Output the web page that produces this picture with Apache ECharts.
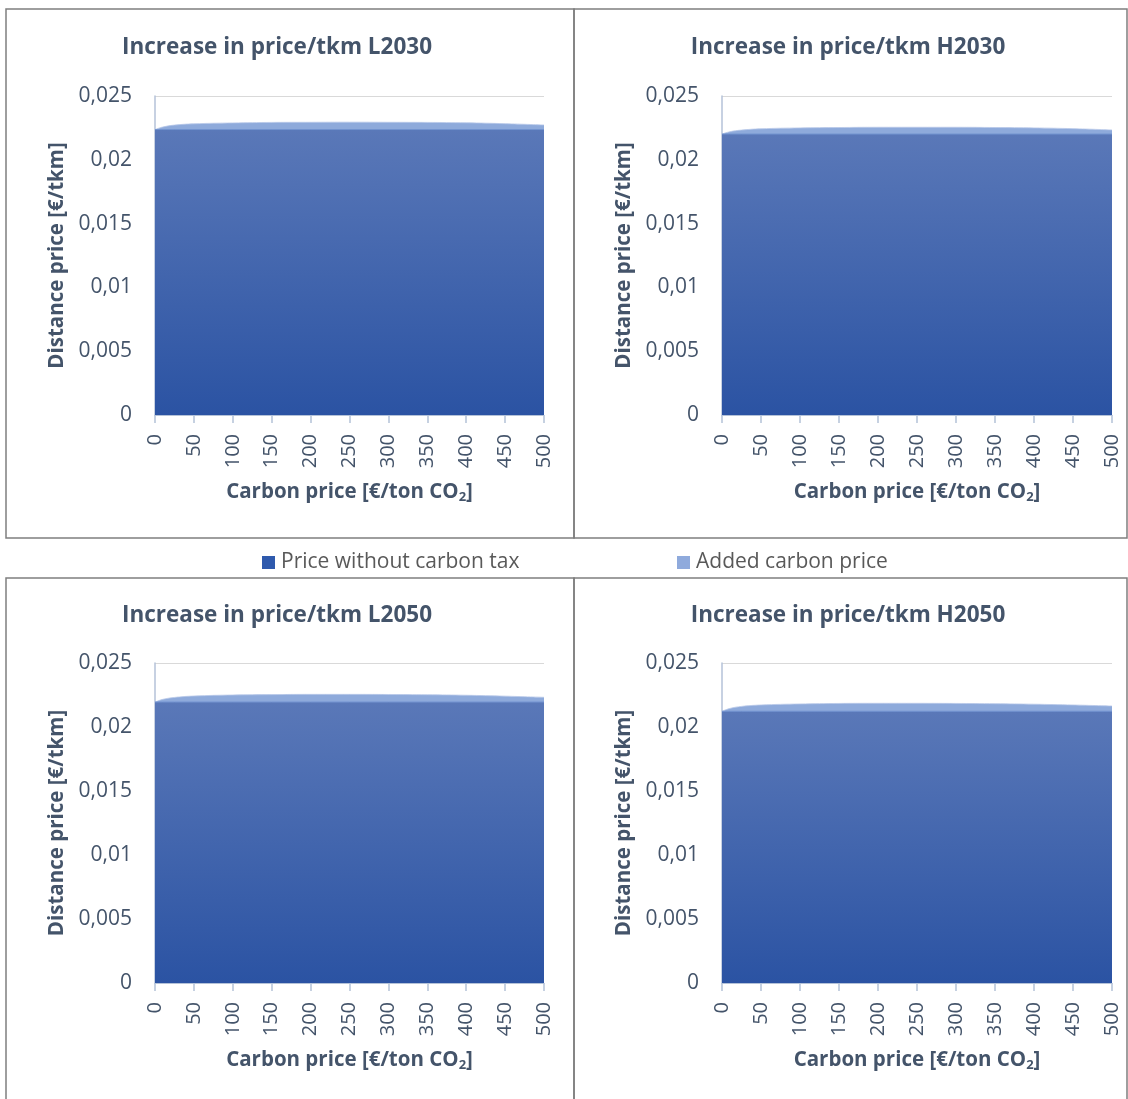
<!DOCTYPE html>
<html>
<head>
<meta charset="utf-8">
<script src="https://cdn.jsdelivr.net/npm/echarts@6/dist/echarts.min.js"></script>
<style>
html,body{margin:0;padding:0;background:#fff;}
#chart{width:1128px;height:1099px;}
</style>
</head>
<body>
<div id="chart"></div>
<script>
// ---- data ----
var carbonPrices = [0, 10, 25, 50, 100, 150, 200, 250, 300, 350, 400, 450, 500];
var xTicks = [0, 50, 100, 150, 200, 250, 300, 350, 400, 450, 500];
var yTicks = [0, 0.005, 0.01, 0.015, 0.02, 0.025];
var panelTitles = ['Increase in price/tkm L2030', 'Increase in price/tkm H2030', 'Increase in price/tkm L2050', 'Increase in price/tkm H2050'];
var seriesNames = ['Price without carbon tax', 'Added carbon price'];

var baseL2030  = [0.02237, 0.02237, 0.02237, 0.02237, 0.02237, 0.02237, 0.02237, 0.02237, 0.02237, 0.02237, 0.02237, 0.02237, 0.02237];
var addedL2030 = [0, 0.00020, 0.00035, 0.00045, 0.00052, 0.00056, 0.00057, 0.00058, 0.00057, 0.00056, 0.00053, 0.00046, 0.00036];
var baseH2030  = [0.02202, 0.02202, 0.02202, 0.02202, 0.02202, 0.02202, 0.02202, 0.02202, 0.02202, 0.02202, 0.02202, 0.02202, 0.02202];
var addedH2030 = [0, 0.00018, 0.00031, 0.00041, 0.00048, 0.00051, 0.00053, 0.00053, 0.00053, 0.00051, 0.00048, 0.00042, 0.00032];
var baseL2050  = [0.02195, 0.02195, 0.02195, 0.02195, 0.02195, 0.02195, 0.02195, 0.02195, 0.02195, 0.02195, 0.02195, 0.02195, 0.02195];
var addedL2050 = [0, 0.00021, 0.00036, 0.00047, 0.00055, 0.00058, 0.00060, 0.00060, 0.00059, 0.00057, 0.00053, 0.00046, 0.00037];
var baseH2050  = [0.02123, 0.02123, 0.02123, 0.02123, 0.02123, 0.02123, 0.02123, 0.02123, 0.02123, 0.02123, 0.02123, 0.02123, 0.02123];
var addedH2050 = [0, 0.00022, 0.00038, 0.00049, 0.00057, 0.00061, 0.00062, 0.00062, 0.00061, 0.00059, 0.00055, 0.00049, 0.00041];

var baseSets = [baseL2030, baseH2030, baseL2050, baseH2050];
var addedSets = [addedL2030, addedH2030, addedL2050, addedH2050];

// ---- layout ----
var FONT = '"Open Sans", Lato, sans-serif';
var TEXT = '#44546a';
var AXIS = '#b4c2d8';
var panels = [
  {x: 6,   y: 9,   w: 568, h: 529, grid: {left: 155, right: 584, top: 96,  bottom: 684}, cx: 277, ty: 36},
  {x: 574, y: 9,   w: 553, h: 529, grid: {left: 722, right: 16,  top: 96,  bottom: 684}, cx: 848, ty: 36},
  {x: 6,   y: 578, w: 568, h: 530, grid: {left: 155, right: 584, top: 663, bottom: 116}, cx: 277, ty: 604},
  {x: 574, y: 578, w: 553, h: 530, grid: {left: 722, right: 16,  top: 663, bottom: 116}, cx: 848, ty: 604}
];

// upper band drawn as base + added (stacked look), base drawn over it
function basePairs(b) { return carbonPrices.map(function (x, i) { return [x, b[i]]; }); }
function totalPairs(b, a) { return carbonPrices.map(function (x, i) { return [x, b[i] + a[i]]; }); }
function fmtY(v) { if (v === 0) return '0'; return String(Number(v.toFixed(3))).replace('.', ','); }

var option = {
  animation: false,
  textStyle: {fontFamily: FONT},
  title: [],
  legend: [
    {data: [seriesNames[0]], left: 262, top: 552, padding: 0, itemWidth: 13, itemHeight: 13, icon: 'rect', itemGap: 6,
     textStyle: {fontFamily: FONT, fontSize: 21, color: '#595959', padding: [0, 0, 0, 1]}, selectedMode: false},
    {data: [seriesNames[1]], left: 677, top: 552, padding: 0, itemWidth: 13, itemHeight: 13, icon: 'rect', itemGap: 6,
     textStyle: {fontFamily: FONT, fontSize: 21, color: '#595959', padding: [0, 0, 0, 1]}, selectedMode: false}
  ],
  grid: [], xAxis: [], yAxis: [], series: [],
  graphic: []
};

panels.forEach(function (p, i) {
  option.graphic.push({type: 'rect', shape: {x: p.x, y: p.y, width: p.w, height: p.h}, silent: true,
    style: {fill: 'none', stroke: '#7f7f7f', lineWidth: 1.5}, z: 100});
  option.title.push({text: panelTitles[i], left: p.cx, top: p.ty, textAlign: 'center', padding: 0,
    textStyle: {fontFamily: FONT, fontSize: 22.5, fontWeight: 'bold', color: TEXT}});
  option.grid.push({left: p.grid.left, right: p.grid.right, top: p.grid.top, bottom: p.grid.bottom, containLabel: false});
  option.xAxis.push({
    type: 'value', gridIndex: i, min: xTicks[0], max: xTicks[xTicks.length - 1], interval: xTicks[1] - xTicks[0],
    name: 'Carbon price [€/ton CO{sub|2}]', nameLocation: 'middle', nameGap: 66,
    nameTextStyle: {fontFamily: FONT, fontSize: 20.5, fontWeight: 'bold', color: TEXT,
      rich: {sub: {fontFamily: FONT, fontSize: 13, fontWeight: 'bold', color: TEXT, verticalAlign: 'bottom', padding: [10, 0, 0, 0]}}},
    axisLine: {show: true, lineStyle: {color: AXIS, width: 1}},
    axisTick: {show: true, length: 8, lineStyle: {color: AXIS, width: 1.5}},
    axisLabel: {rotate: 90, margin: 19, fontFamily: FONT, fontSize: 20, color: TEXT},
    splitLine: {show: false}
  });
  option.yAxis.push({
    type: 'value', gridIndex: i, min: yTicks[0], max: yTicks[yTicks.length - 1], interval: yTicks[1] - yTicks[0],
    name: 'Distance price [€/tkm]', nameLocation: 'middle', nameGap: 87, nameRotate: 90,
    nameTextStyle: {fontFamily: FONT, fontSize: 20.5, fontWeight: 'bold', color: TEXT},
    axisLine: {show: true, lineStyle: {color: AXIS, width: 1.5}},
    axisTick: {show: false},
    axisLabel: {margin: 23, fontFamily: FONT, fontSize: 21, color: TEXT, formatter: fmtY},
    splitLine: {show: true, lineStyle: {color: '#d9d9d9', width: 1}}
  });
  option.series.push({
    name: seriesNames[0], type: 'line', xAxisIndex: i, yAxisIndex: i,
    data: basePairs(baseSets[i]), showSymbol: false, symbol: 'none',
    itemStyle: {color: '#2f5aad'},
    lineStyle: {width: 1, color: '#7393cf'},
    areaStyle: {opacity: 1, color: new echarts.graphic.LinearGradient(0, 0, 0, 1, [
      {offset: 0, color: '#5a78b8'}, {offset: 1, color: '#2b53a3'}])},
    z: 3
  });
  option.series.push({
    name: seriesNames[1], type: 'line', xAxisIndex: i, yAxisIndex: i,
    data: totalPairs(baseSets[i], addedSets[i]), showSymbol: false, symbol: 'none', smooth: 0.4,
    itemStyle: {color: '#8faadc'},
    lineStyle: {width: 0.8, color: '#b7c8e8'},
    areaStyle: {opacity: 1, color: '#8eaadb'},
    z: 2
  });
});

var chart = echarts.init(document.getElementById('chart'), null, {renderer: 'canvas'});
chart.setOption(option);
</script>
</body>
</html>
